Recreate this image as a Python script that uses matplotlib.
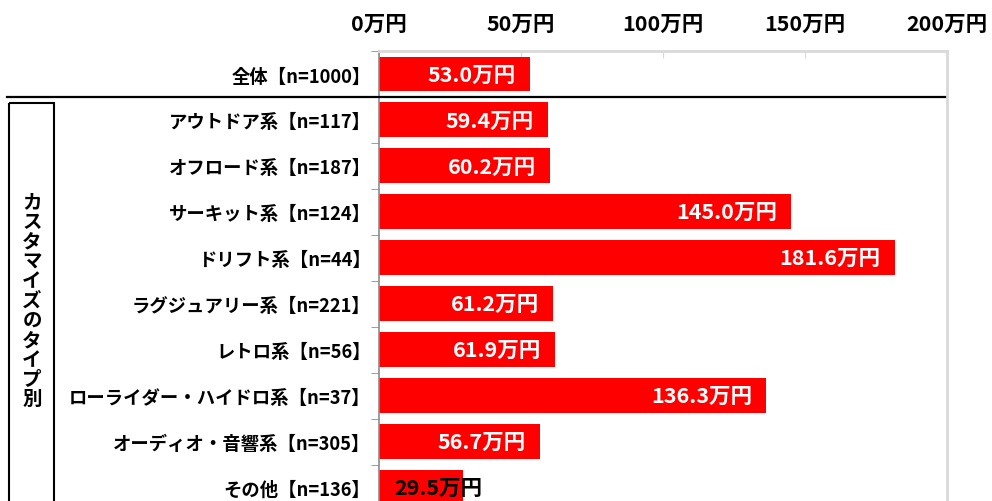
import numpy as np
import matplotlib
matplotlib.use('Agg')
import matplotlib.pyplot as plt
from matplotlib.patches import Rectangle
from matplotlib.lines import Line2D
from matplotlib.transforms import blended_transform_factory

plt.rcParams['font.family'] = ['Noto Sans CJK JP', 'DejaVu Sans']
plt.rcParams['font.weight'] = 'bold'

labels = ['全体【n=1000】', 'アウトドア系【n=117】', 'オフロード系【n=187】', 'サーキット系【n=124】',
          'ドリフト系【n=44】', 'ラグジュアリー系【n=221】', 'レトロ系【n=56】',
          'ローライダー・ハイドロ系【n=37】', 'オーディオ・音響系【n=305】', 'その他【n=136】']
values = [53.0, 59.4, 60.2, 145.0, 181.6, 61.2, 61.9, 136.3, 56.7, 29.5]
xticks = [0, 50, 100, 150, 200]
group_label = 'カスタマイズのタイプ別'

fig = plt.figure(figsize=(9.92, 5.02), dpi=100)
W, H = 992, 502
# plot area in pixels: x 379..947, y 52..511.5 (bottom is cut off)
ax = fig.add_axes([379 / W, 1 - 511.5 / H, (947 - 379) / W, (511.5 - 52) / H])

y = np.arange(len(values))
ax.barh(y, values, height=0.76, color='#FF0000', edgecolor='none', zorder=2)
ax.set_xlim(0, 200)
ax.set_ylim(len(values) - 0.5, -0.5)

for yi, v in zip(y, values):
    txt = f'{v:.1f}万円'
    if v > 40:
        ax.annotate(txt, (v, yi), xytext=(-14, 0), textcoords='offset pixels',
                    ha='right', va='center', color='white', fontsize=15.5, fontweight='bold')
    else:
        ax.annotate(txt, (0, yi), xytext=(15, 0), textcoords='offset pixels',
                    ha='left', va='center', color='black', fontsize=15.5, fontweight='bold')

# x axis on top
ax.xaxis.tick_top()
ax.set_xticks(xticks)
ax.set_xticklabels([f'{t}万円' for t in xticks], fontsize=15.5, fontweight='bold')
ax.tick_params(axis='x', direction='in', length=5, color='#d9d9d9', pad=12)

# y axis: labels at centres, ticks at boundaries
ax.set_yticks(y)
ax.set_yticklabels(labels, fontsize=13.2, fontweight='bold')
ax.tick_params(axis='y', which='major', length=0, pad=6)
ax.set_yticks(np.arange(len(values) + 1) - 0.5, minor=True)
ax.tick_params(axis='y', which='minor', length=6, color='#8c8c8c', direction='out')

for s in ['top', 'right']:
    ax.spines[s].set_color('#d9d9d9')
    ax.spines[s].set_linewidth(2)
ax.spines['left'].set_color('#8c8c8c')
ax.spines['left'].set_linewidth(1.2)
ax.spines['bottom'].set_visible(False)

# separator under 全体 and group box
tr = blended_transform_factory(fig.transFigure, ax.transData)
fig.add_artist(Line2D([7 / W, 945 / W], [0.5, 0.5], transform=tr, color='black', lw=1.6))
fig.add_artist(Rectangle((9 / W, 0.64), 45 / W, 10, transform=tr, fill=False,
                         edgecolor='black', lw=1.5, clip_on=False))
fig.text(32 / W, 4.92, '\n'.join(group_label), transform=tr, ha='center', va='center',
         fontsize=14, fontweight='bold', linespacing=1.05)

plt.savefig('out.png', dpi=100)
